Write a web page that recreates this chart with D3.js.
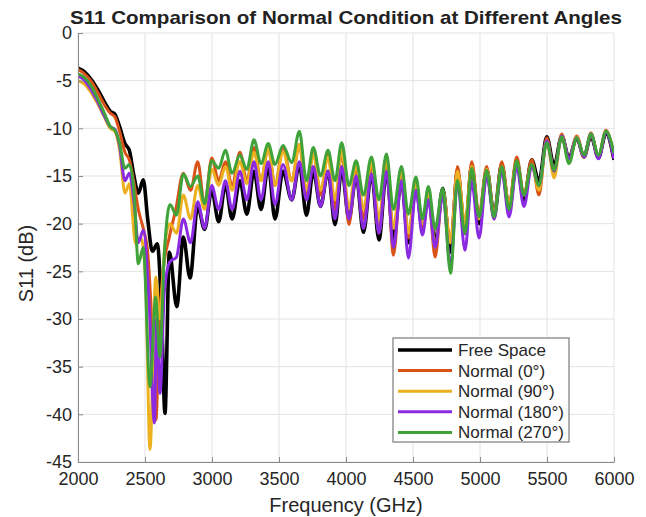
<!DOCTYPE html>
<html lang="en">
<head>
<meta charset="UTF-8">
<title>S11 Comparison</title>
<style>
    body { margin: 0; background: #fff; font-family: "Liberation Sans", Arial, sans-serif; }
    .grid line { stroke: #e3e3e3; }
    .axis path, .axis line { stroke: #8a8a8a; }
    .axis text { fill: #262626; font-size: 18px; font-family: "Liberation Sans", Arial, sans-serif; }
</style>
</head>
<body>
<script src="https://d3js.org/d3.v7.min.js"></script>
<script>
    // tick labels
    const xTicks = [2000, 2500, 3000, 3500, 4000, 4500, 5000, 5500, 6000];
    const yTicks = [0, -5, -10, -15, -20, -25, -30, -35, -40, -45];

    const seriesNames = ["Free Space", "Normal (0°)", "Normal (90°)", "Normal (180°)", "Normal (270°)"];
    const seriesColors = ["#000000", "#D95319", "#EDB120", "#8A2BE2", "#3FA33A"];

    // low band (2000-2840 MHz): [frequency, S11] per series
    const freeSpaceLow = [[2000,-3.7],[2050,-4.1],[2100,-4.9],[2150,-6.0],[2200,-7.3],[2240,-8.2],[2275,-8.5],[2310,-9.8],[2350,-11.6],[2383,-12.3],[2415,-14.8],[2450,-16.8],[2487,-15.4],[2520,-19.5],[2555,-22.9],[2592,-22.1],[2625,-30],[2649,-39.9],[2682,-23.0],[2737,-28.7],[2786,-21.4],[2836,-25.7]];
    const normal0Low = [[2000,-3.8],[2050,-4.3],[2100,-5.1],[2150,-6.3],[2200,-7.6],[2240,-8.4],[2275,-8.8],[2310,-10.3],[2350,-12.5],[2383,-13.3],[2415,-15.5],[2450,-18.5],[2487,-20.5],[2520,-23.0],[2550,-30.0],[2582,-40.6],[2605,-31.0],[2635,-25.0],[2680,-21.5],[2730,-18.5],[2786,-14.7],[2840,-16.5]];
    const normal90Low = [[2000,-5.0],[2050,-5.4],[2100,-6.3],[2150,-7.5],[2200,-8.9],[2240,-10.0],[2275,-10.3],[2310,-12.2],[2351,-16.8],[2383,-15.8],[2430,-22.1],[2470,-21.5],[2505,-26.0],[2537,-43.7],[2580,-25.6],[2610,-30.0],[2650,-22.0],[2686,-20.0],[2735,-21.0],[2786,-17.0],[2840,-19.5]];
    const normal180Low = [[2000,-4.5],[2050,-5.0],[2100,-6.0],[2150,-7.3],[2200,-8.8],[2240,-9.8],[2275,-10.1],[2310,-11.8],[2350,-15.5],[2383,-14.7],[2420,-18.0],[2450,-22.0],[2487,-20.7],[2530,-28.0],[2570,-40.9],[2587,-29.9],[2612,-37.8],[2645,-27.0],[2686,-24.0],[2735,-23.5],[2786,-19.5],[2840,-22.0]];
    const normal270Low = [[2000,-4.3],[2050,-4.7],[2100,-5.6],[2150,-7.0],[2200,-8.5],[2240,-9.8],[2275,-10.2],[2310,-11.5],[2350,-14.2],[2383,-13.8],[2420,-17.0],[2450,-24.2],[2487,-22.5],[2537,-37.1],[2580,-27.7],[2610,-34.0],[2645,-23.0],[2686,-18.0],[2735,-19.1],[2786,-14.8],[2840,-16.1]];

    // upper band: shared ripple peaks / troughs (MHz)
    const freqMid = [2893,2945,2998,3050,3100,3150,3208,3260,3313,3366,3420,3470,3530,3595,3652,3705,3756,3810,3866,3918,3968,4022,4076,4130,4190,4246,4302,4354,4414,4466,4522,4570,4615,4665,4722,4780,4832,4888,4938,4993,5050,5105,5162,5217,5274,5328,5386,5440,5498,5553,5610,5664,5722,5776,5828,5884,5940,6000];

    const freeSpaceMid = [-18.2,-20.6,-16.5,-19.8,-15.9,-19.5,-15.5,-19.0,-14.5,-18.5,-14.0,-19.5,-14.5,-17.5,-13.8,-19.1,-14.5,-18.2,-14.5,-20.1,-14.3,-19.5,-15.0,-20.9,-14.8,-21.7,-14.5,-21.5,-15.5,-22.0,-16.0,-20.5,-17.0,-22.0,-16.3,-23.0,-14.5,-21.0,-14.0,-20.0,-14.3,-19.0,-13.8,-18.5,-13.5,-17.5,-13.3,-15.6,-10.9,-13.9,-10.8,-13.1,-11.0,-13.0,-10.8,-13.1,-10.5,-13.3];
    const normal0Mid = [-13.5,-18.0,-13.1,-15.5,-13.5,-16.0,-12.5,-15.5,-12.0,-15.5,-12.0,-16.0,-12.0,-15.5,-11.7,-17.0,-12.5,-17.0,-12.5,-18.5,-12.5,-20.1,-14.0,-19.5,-13.8,-21.0,-13.5,-23.3,-14.5,-21.5,-15.5,-20.5,-17.0,-23.5,-16.5,-22.0,-14.0,-20.5,-13.5,-19.0,-14.0,-19.5,-13.5,-18.0,-13.0,-17.0,-13.3,-17.0,-11.0,-14.5,-10.6,-13.3,-10.8,-13.0,-10.5,-13.0,-10.2,-13.0];
    const normal90Mid = [-16.0,-18.5,-14.3,-16.0,-14.0,-16.5,-13.5,-15.8,-12.5,-15.5,-12.0,-16.0,-12.5,-15.5,-11.7,-16.5,-12.7,-16.5,-13.0,-17.5,-12.3,-18.5,-13.8,-18.5,-13.5,-19.5,-13.2,-20.5,-14.3,-21.0,-15.8,-20.0,-16.5,-22.5,-16.5,-22.0,-14.5,-20.0,-14.0,-19.5,-14.3,-19.0,-14.0,-18.0,-13.5,-17.0,-13.8,-16.5,-11.3,-15.2,-10.8,-13.5,-10.9,-13.0,-10.6,-13.0,-10.3,-13.0];
    const normal180Mid = [-17.7,-20.5,-16.0,-18.5,-15.5,-18.5,-14.5,-17.5,-13.5,-17.5,-13.5,-18.0,-13.8,-17.5,-13.5,-17.5,-14.0,-18.2,-14.5,-19.5,-14.0,-19.5,-15.0,-20.5,-14.8,-21.0,-14.5,-22.5,-15.5,-23.6,-16.5,-21.2,-17.5,-22.5,-17.0,-24.5,-15.6,-22.8,-15.6,-21.5,-15.0,-19.5,-14.5,-19.3,-14.0,-18.2,-14.0,-16.0,-11.3,-14.5,-10.8,-13.2,-11.0,-13.0,-10.6,-13.2,-10.4,-13.2];
    const normal270Mid = [-15.0,-17.9,-13.4,-14.2,-12.3,-14.7,-12.8,-14.3,-11.2,-13.7,-11.6,-13.8,-11.8,-13.6,-10.3,-15.5,-12.0,-15.0,-12.3,-15.5,-11.5,-16.0,-13.4,-17.0,-13.0,-17.5,-12.7,-18.5,-14.0,-19.0,-15.1,-19.5,-16.1,-20.5,-16.3,-25.2,-15.5,-21.0,-14.2,-19.3,-14.4,-19.3,-14.0,-18.5,-13.4,-17.0,-13.8,-16.0,-11.5,-14.4,-10.9,-13.7,-11.0,-12.8,-10.6,-12.8,-10.3,-12.6];

    const lows = [freeSpaceLow, normal0Low, normal90Low, normal180Low, normal270Low];
    const mids = [freeSpaceMid, normal0Mid, normal90Mid, normal180Mid, normal270Mid];
    const series = seriesNames.map((name, i) => ({
        name: name,
        color: seriesColors[i],
        points: lows[i].concat(freqMid.map((f, j) => [f, mids[i][j]]))
    }));

    const width = 646, height = 517;
    const margin = {top: 33, right: 32, bottom: 55, left: 78};
    const plotW = width - margin.left - margin.right;
    const plotH = height - margin.top - margin.bottom;

    const svg = d3.select("body").append("svg")
        .attr("width", width)
        .attr("height", height);

    svg.append("rect").attr("width", width).attr("height", height).attr("fill", "#fff");

    const x = d3.scaleLinear().domain([2000, 6000]).range([margin.left, margin.left + plotW]);
    const y = d3.scaleLinear().domain([-45, 0]).range([margin.top + plotH, margin.top]);

    // grid
    const grid = svg.append("g").attr("class", "grid");
    grid.selectAll(".gx").data(xTicks).enter().append("line")
        .attr("x1", d => x(d)).attr("x2", d => x(d))
        .attr("y1", margin.top).attr("y2", margin.top + plotH);
    grid.selectAll(".gy").data(yTicks).enter().append("line")
        .attr("x1", margin.left).attr("x2", margin.left + plotW)
        .attr("y1", d => y(d)).attr("y2", d => y(d));

    // lines
    svg.append("clipPath").attr("id", "clip")
        .append("rect").attr("x", margin.left).attr("y", margin.top - 2)
        .attr("width", plotW).attr("height", plotH + 2);

    const line = d3.line()
        .x(d => x(d[0]))
        .y(d => y(d[1]))
        .curve(d3.curveMonotoneX);

    svg.append("g").attr("clip-path", "url(#clip)")
        .selectAll("path").data(series).enter().append("path")
        .attr("d", d => line(d.points))
        .attr("fill", "none")
        .attr("stroke", d => d.color)
        .attr("stroke-width", (d, i) => i === 0 ? 3.6 : 3)
        .attr("stroke-linejoin", "round");

    // axes (plain hyphen minus, no thousands separator)
    const xAxis = d3.axisBottom(x).tickValues(xTicks).tickFormat(d => String(d))
        .tickSizeInner(-5).tickSizeOuter(0).tickPadding(10);
    const yAxis = d3.axisLeft(y).tickValues(yTicks).tickFormat(d => String(d))
        .tickSizeInner(-5).tickSizeOuter(0).tickPadding(6);

    svg.append("g").attr("class", "axis")
        .attr("transform", "translate(0," + (margin.top + plotH) + ")")
        .call(xAxis);

    svg.append("g").attr("class", "axis")
        .attr("transform", "translate(" + margin.left + ",0)")
        .call(yAxis);

    // title and labels
    svg.append("text")
        .attr("x", margin.left + plotW / 2).attr("y", 24)
        .attr("text-anchor", "middle")
        .attr("font-size", 19).attr("font-weight", "bold")
        .attr("textLength", 552).attr("lengthAdjust", "spacingAndGlyphs")
        .attr("fill", "#222")
        .text("S11 Comparison of Normal Condition at Different Angles");

    svg.append("text")
        .attr("x", margin.left + plotW / 2).attr("y", 512)
        .attr("text-anchor", "middle")
        .attr("font-size", 20).attr("fill", "#262626")
        .text("Frequency (GHz)");

    svg.append("text")
        .attr("transform", "translate(33," + (margin.top + plotH / 2 + 16) + ") rotate(-90)")
        .attr("text-anchor", "middle")
        .attr("font-size", 20).attr("fill", "#262626")
        .text("S11 (dB)");

    // legend
    const legend = svg.append("g").attr("transform", "translate(393,338)");
    legend.append("rect")
        .attr("width", 176).attr("height", 104)
        .attr("fill", "#fff").attr("stroke", "#7a7a7a").attr("stroke-width", 1.2);

    const rows = legend.selectAll(".row").data(series).enter().append("g")
        .attr("transform", (d, i) => "translate(0," + (12 + i * 20.6) + ")");
    rows.append("line")
        .attr("x1", 5).attr("x2", 59)
        .attr("stroke", d => d.color)
        .attr("stroke-width", (d, i) => i === 0 ? 3.6 : 3);
    rows.append("text")
        .attr("x", 65).attr("y", 6)
        .attr("font-size", 17).attr("fill", "#262626")
        .text(d => d.name);
</script>
</body>
</html>
